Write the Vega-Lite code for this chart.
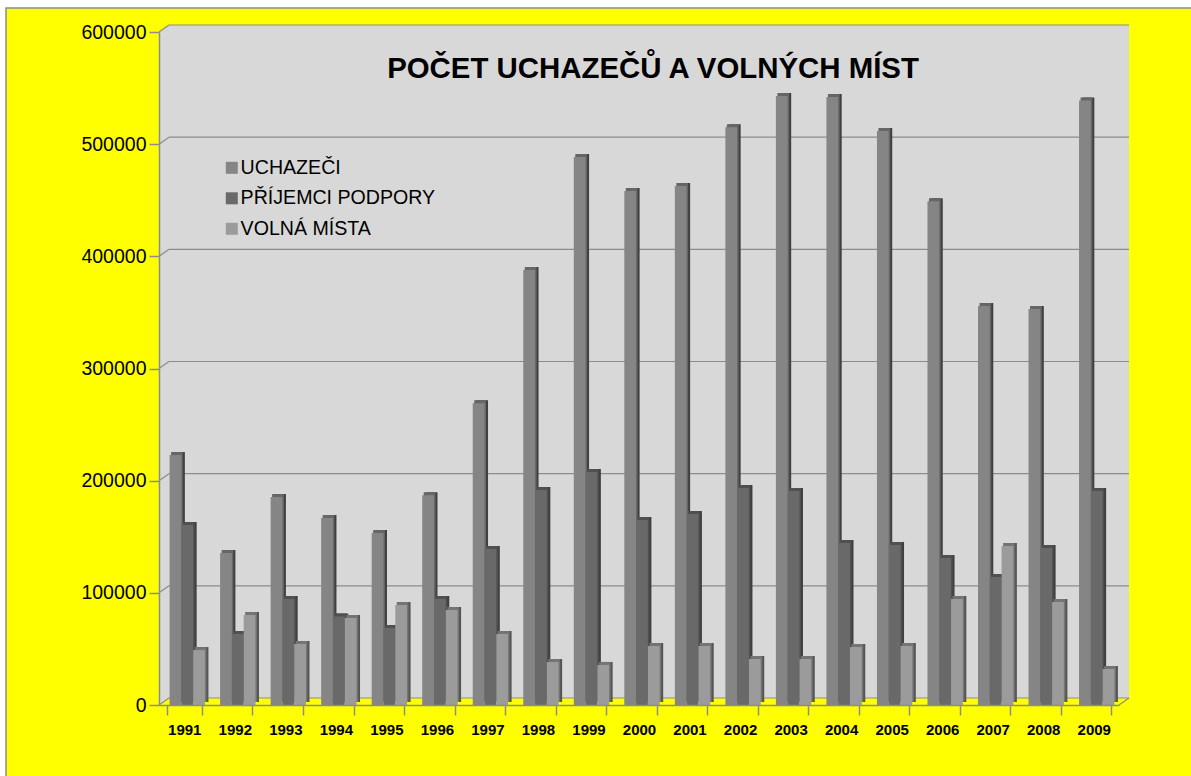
{"$schema":"https://vega.github.io/schema/vega-lite/v6.json","width":960,"height":673,"autosize":{"type":"none"},"padding":{"left":159,"top":32,"right":72,"bottom":71},"background":"#ffffff","config":{"view":{"stroke":null},"font":"Liberation Sans"},
"title":{"text":"POČET UCHAZEČŮ A VOLNÝCH MÍST","font":"Liberation Sans","fontSize":29.4,"fontWeight":"bold","color":"#000000","anchor":"middle","frame":"group","offset":0,"dx":14,"dy":77},
"datasets":{"main":[
{"year":"1991","series":"UCHAZEČI","value":222900},{"year":"1992","series":"UCHAZEČI","value":135500},{"year":"1993","series":"UCHAZEČI","value":185400},{"year":"1994","series":"UCHAZEČI","value":166700},{"year":"1995","series":"UCHAZEČI","value":153300},{"year":"1996","series":"UCHAZEČI","value":187000},{"year":"1997","series":"UCHAZEČI","value":269000},{"year":"1998","series":"UCHAZEČI","value":387800},{"year":"1999","series":"UCHAZEČI","value":488500},{"year":"2000","series":"UCHAZEČI","value":458200},{"year":"2001","series":"UCHAZEČI","value":462700},{"year":"2002","series":"UCHAZEČI","value":515000},{"year":"2003","series":"UCHAZEČI","value":543000},{"year":"2004","series":"UCHAZEČI","value":542000},{"year":"2005","series":"UCHAZEČI","value":511700},{"year":"2006","series":"UCHAZEČI","value":449000},{"year":"2007","series":"UCHAZEČI","value":355700},{"year":"2008","series":"UCHAZEČI","value":353000},{"year":"2009","series":"UCHAZEČI","value":539000},
{"year":"1991","series":"PŘÍJEMCI PODPORY","value":160500},{"year":"1992","series":"PŘÍJEMCI PODPORY","value":63300},{"year":"1993","series":"PŘÍJEMCI PODPORY","value":94500},{"year":"1994","series":"PŘÍJEMCI PODPORY","value":79000},{"year":"1995","series":"PŘÍJEMCI PODPORY","value":68600},{"year":"1996","series":"PŘÍJEMCI PODPORY","value":94500},{"year":"1997","series":"PŘÍJEMCI PODPORY","value":139000},{"year":"1998","series":"PŘÍJEMCI PODPORY","value":191700},{"year":"1999","series":"PŘÍJEMCI PODPORY","value":207700},{"year":"2000","series":"PŘÍJEMCI PODPORY","value":165000},{"year":"2001","series":"PŘÍJEMCI PODPORY","value":170300},{"year":"2002","series":"PŘÍJEMCI PODPORY","value":193500},{"year":"2003","series":"PŘÍJEMCI PODPORY","value":190800},{"year":"2004","series":"PŘÍJEMCI PODPORY","value":144400},{"year":"2005","series":"PŘÍJEMCI PODPORY","value":142600},{"year":"2006","series":"PŘÍJEMCI PODPORY","value":131000},{"year":"2007","series":"PŘÍJEMCI PODPORY","value":114100},{"year":"2008","series":"PŘÍJEMCI PODPORY","value":140000},{"year":"2009","series":"PŘÍJEMCI PODPORY","value":190800},
{"year":"1991","series":"VOLNÁ MÍSTA","value":49000},{"year":"1992","series":"VOLNÁ MÍSTA","value":80200},{"year":"1993","series":"VOLNÁ MÍSTA","value":54400},{"year":"1994","series":"VOLNÁ MÍSTA","value":77600},{"year":"1995","series":"VOLNÁ MÍSTA","value":89200},{"year":"1996","series":"VOLNÁ MÍSTA","value":84700},{"year":"1997","series":"VOLNÁ MÍSTA","value":63300},{"year":"1998","series":"VOLNÁ MÍSTA","value":38300},{"year":"1999","series":"VOLNÁ MÍSTA","value":35700},{"year":"2000","series":"VOLNÁ MÍSTA","value":52600},{"year":"2001","series":"VOLNÁ MÍSTA","value":52600},{"year":"2002","series":"VOLNÁ MÍSTA","value":41000},{"year":"2003","series":"VOLNÁ MÍSTA","value":41000},{"year":"2004","series":"VOLNÁ MÍSTA","value":51700},{"year":"2005","series":"VOLNÁ MÍSTA","value":52600},{"year":"2006","series":"VOLNÁ MÍSTA","value":94500},{"year":"2007","series":"VOLNÁ MÍSTA","value":141700},{"year":"2008","series":"VOLNÁ MÍSTA","value":91800},{"year":"2009","series":"VOLNÁ MÍSTA","value":32100}],
"grid":[{"v":0},{"v":100000},{"v":200000},{"v":300000},{"v":400000},{"v":500000},{"v":600000}]},
"resolve":{"scale":{"x":"independent","color":"independent","xOffset":"independent"}},
"layer":[
{"data":{"name":"grid"},"transform":[{"filter":"datum.v===0"}],"mark":{"type":"rect","fill":"#ffff00","stroke":"#8c8c8c","strokeWidth":1.5},"encoding":{"x":{"datum":-0.1594,"type":"quantitative","scale":{"domain":[0,1]},"axis":null},"x2":{"datum":1.2},"y":{"datum":621300,"type":"quantitative","scale":{"domain":[0,600000],"nice":false},"axis":{"title":null,"values":[0,100000,200000,300000,400000,500000,600000],"format":"d","grid":false,"labelFont":"Liberation Sans","labelFontSize":19.5,"labelColor":"#000000","domainColor":"#8c8c8c","domainWidth":1.5,"tickColor":"#8c8c8c","tickWidth":1.5,"tickSize":10,"labelPadding":3,"zindex":1}},"y2":{"datum":-90000}}},
{"data":{"name":"grid"},"transform":[{"filter":"datum.v===0"}],"mark":{"type":"rect","fill":"#d8d8d8","x2Offset":10,"yOffset":-7,"y2Offset":-7},"encoding":{"x":{"datum":0,"type":"quantitative","scale":{"domain":[0,1]},"axis":null},"x2":{"datum":1},"y":{"datum":600000,"type":"quantitative"},"y2":{"datum":0}}},
{"data":{"name":"grid"},"transform":[{"filter":"datum.v===600000"}],"mark":{"type":"point","shape":"M-1,-0.7L1,-0.7L-1,0.7Z","filled":true,"size":100,"opacity":1,"color":"#ffff00","strokeWidth":0,"xOffset":5,"yOffset":-3.5},"encoding":{"x":{"datum":0,"type":"quantitative","scale":{"domain":[0,1]},"axis":null},"y":{"field":"v","type":"quantitative"}}},
{"data":{"name":"grid"},"transform":[{"filter":"datum.v===0"}],"mark":{"type":"point","shape":"M-1,-0.7L1,-0.7L-1,0.7Z","filled":true,"size":100,"opacity":1,"color":"#d8d8d8","strokeWidth":0,"xOffset":5,"yOffset":-3.5},"encoding":{"x":{"datum":0,"type":"quantitative","scale":{"domain":[0,1]},"axis":null},"y":{"field":"v","type":"quantitative"}}},
{"data":{"name":"grid"},"mark":{"type":"rule","color":"#8c8c8c","strokeWidth":1.2,"xOffset":10,"x2Offset":10,"yOffset":-7},"encoding":{"x":{"datum":0,"type":"quantitative","scale":{"domain":[0,1]},"axis":null},"x2":{"datum":1},"y":{"field":"v","type":"quantitative"}}},
{"data":{"name":"grid"},"mark":{"type":"rule","color":"#8c8c8c","strokeWidth":1.2,"x2Offset":10,"y2Offset":-7},"encoding":{"x":{"datum":0,"type":"quantitative","scale":{"domain":[0,1]},"axis":null},"x2":{"datum":0},"y":{"field":"v","type":"quantitative"},"y2":{"field":"v"}}},
{"data":{"name":"grid"},"transform":[{"filter":"datum.v===0"}],"mark":{"type":"rule","color":"#8c8c8c","strokeWidth":1.2,"x2Offset":10,"y2Offset":-7},"encoding":{"x":{"datum":1,"type":"quantitative","scale":{"domain":[0,1]},"axis":null},"x2":{"datum":1},"y":{"field":"v","type":"quantitative"},"y2":{"field":"v"}}},
{"data":{"name":"main"},"mark":{"type":"bar","yOffset":-3,"y2Offset":-3},"encoding":{"x":{"field":"year","type":"nominal","scale":{"range":[6.5,966.5],"paddingInner":0.3,"paddingOuter":0.15},"axis":null},"xOffset":{"field":"series","type":"nominal","sort":["UCHAZEČI","PŘÍJEMCI PODPORY","VOLNÁ MÍSTA"]},"y":{"field":"value","type":"quantitative"},"y2":{"datum":0},"color":{"field":"series","type":"nominal","legend":null,"sort":["UCHAZEČI","PŘÍJEMCI PODPORY","VOLNÁ MÍSTA"],"scale":{"domain":["UCHAZEČI","PŘÍJEMCI PODPORY","VOLNÁ MÍSTA"],"range":["#404040","#404040","#555555"]}}}},
{"data":{"name":"main"},"mark":{"type":"bar","yOffset":-3,"y2Offset":-3},"encoding":{"x":{"field":"year","type":"nominal","scale":{"range":[4.5,964.5],"paddingInner":0.3,"paddingOuter":0.15},"axis":null},"xOffset":{"field":"series","type":"nominal","sort":["UCHAZEČI","PŘÍJEMCI PODPORY","VOLNÁ MÍSTA"]},"y":{"field":"value","type":"quantitative"},"y2":{"datum":0},"color":{"field":"series","type":"nominal","legend":null,"sort":["UCHAZEČI","PŘÍJEMCI PODPORY","VOLNÁ MÍSTA"],"scale":{"domain":["UCHAZEČI","PŘÍJEMCI PODPORY","VOLNÁ MÍSTA"],"range":["#666666","#505050","#747474"]}}}},
{"data":{"name":"main"},"mark":{"type":"bar"},"encoding":{"x":{"field":"year","type":"nominal","scale":{"range":[3,963],"paddingInner":0.3,"paddingOuter":0.15},"axis":null},"xOffset":{"field":"series","type":"nominal","sort":["UCHAZEČI","PŘÍJEMCI PODPORY","VOLNÁ MÍSTA"]},"y":{"field":"value","type":"quantitative"},"y2":{"datum":0},"color":{"field":"series","type":"nominal","sort":["UCHAZEČI","PŘÍJEMCI PODPORY","VOLNÁ MÍSTA"],"scale":{"domain":["UCHAZEČI","PŘÍJEMCI PODPORY","VOLNÁ MÍSTA"],"range":["#858585","#696969","#9b9b9b"]},"legend":{"title":null,"orient":"none","legendX":63,"legendY":126,"symbolType":"square","symbolSize":144,"symbolStrokeWidth":0,"labelFont":"Liberation Sans","labelFontSize":19.6,"labelColor":"#000000","labelOffset":-1,"rowPadding":9.5,"labelLimit":400}}}},
{"data":{"name":"main"},"mark":{"type":"bar","opacity":0},"encoding":{"x":{"field":"year","type":"nominal","scale":{"paddingInner":0.3,"paddingOuter":0.15},"axis":{"title":null,"labelAngle":0,"tickBand":"extent","labelFont":"Liberation Sans","labelFontSize":15,"labelFontWeight":"bold","labelColor":"#000000","domainColor":"#8c8c8c","domainWidth":1.5,"tickColor":"#8c8c8c","tickWidth":1.5,"tickSize":10,"labelPadding":7,"zindex":1}},"y":{"field":"value","type":"quantitative"},"y2":{"datum":0}}}
]}
